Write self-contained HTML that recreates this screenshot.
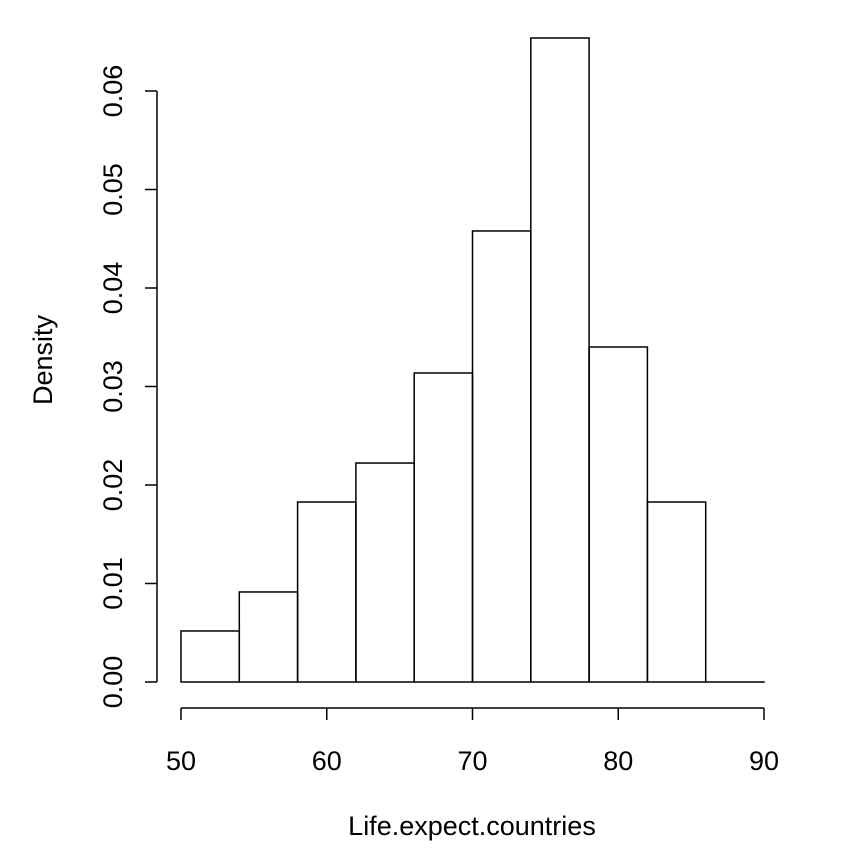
<!DOCTYPE html>
<html><head><meta charset="utf-8"><style>
body{margin:0;background:#fff}
svg text{font-family:"Liberation Sans",Arial,sans-serif;font-size:27px;fill:#000}
</style></head><body>
<svg id="chart" width="843" height="859" xmlns="http://www.w3.org/2000/svg"></svg>
<script>
const binEdges=[50,54,58,62,66,70,74,78,82,86,90];
const densities=[0.00518,0.00914,0.01827,0.02223,0.03137,0.04579,0.06538,0.03401,0.01827,0];
const xTicks=[50,60,70,80,90];
const yTicks=[0,0.01,0.02,0.03,0.04,0.05,0.06];
const yTickLabels=["0.00","0.01","0.02","0.03","0.04","0.05","0.06"];
const svg=document.getElementById('chart');
const NS='http://www.w3.org/2000/svg';
const xs=v=>181+(v-50)*(764-181)/40;
const ys=v=>682-v*(682-91)/0.06;
function mk(t,a){const e=document.createElementNS(NS,t);for(const k in a)e.setAttribute(k,a[k]);svg.appendChild(e);return e;}
densities.forEach((d,i)=>{
 const x0=xs(binEdges[i]),x1=xs(binEdges[i+1]),y=ys(d);
 const r=mk('rect',{x:x0,y:y,width:x1-x0,height:Math.max(ys(0)-y,0.01),fill:'none',stroke:'#000','stroke-width':1.5});
 
 
});
let l=mk('line',{x1:xs(50),x2:xs(90),y1:708,y2:708,stroke:'#000','stroke-width':1.5});


xTicks.forEach(v=>{
 mk('line',{x1:xs(v),x2:xs(v),y1:708,y2:720,stroke:'#000','stroke-width':1.5});
 const t=mk('text',{x:xs(v),y:770,'text-anchor':'middle'});t.textContent=v;
 
 
});
l=mk('line',{x1:157,x2:157,y1:ys(0),y2:ys(0.06),stroke:'#000','stroke-width':1.5});


yTicks.forEach((v,i)=>{
 mk('line',{x1:145,x2:157,y1:ys(v),y2:ys(v),stroke:'#000','stroke-width':1.5});
 const t=mk('text',{x:122,y:ys(v),'text-anchor':'middle',transform:`rotate(-90 122 ${ys(v)})`});t.textContent=yTickLabels[i];
 
 
});
let t=mk('text',{x:472,y:835,'text-anchor':'middle'});t.textContent='Life.expect.countries';


t=mk('text',{x:52,y:360,'text-anchor':'middle',transform:'rotate(-90 52 360)'});t.textContent='Density';


</script>
</body></html>
